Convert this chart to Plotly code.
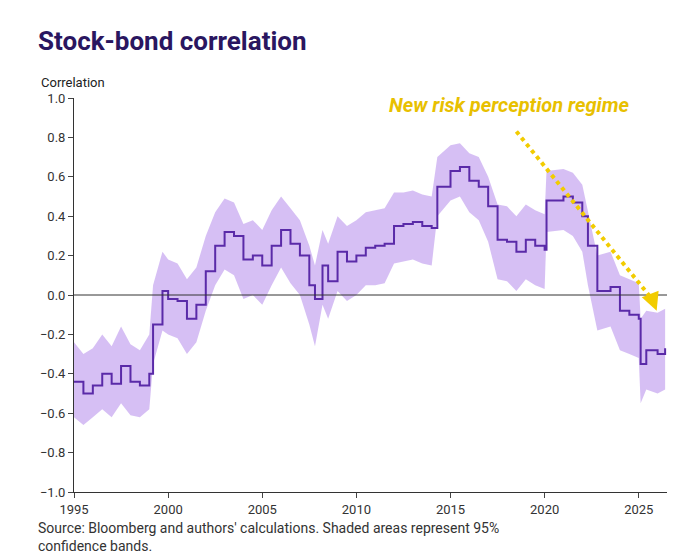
import plotly.graph_objects as go

years = [1995.0,1995.5,1996.0,1996.5,1997.0,1997.5,1998.0,1998.5,1999.0,1999.2,1999.7,2000.0,2000.5,2001.0,2001.5,2002.0,2002.5,2003.0,2003.5,2004.0,2004.5,2005.0,2005.5,2006.0,2006.5,2007.0,2007.5,2007.8,2008.2,2008.5,2009.0,2009.5,2010.0,2010.5,2011.0,2011.5,2012.0,2012.5,2013.0,2013.5,2014.0,2014.3,2015.0,2015.5,2016.0,2016.5,2017.0,2017.5,2018.0,2018.5,2019.0,2019.5,2020.0,2020.1,2021.0,2021.5,2022.0,2022.3,2022.8,2023.5,2024.0,2024.5,2025.0,2025.1,2025.4,2026.0,2026.4]
corr = [-0.44,-0.50,-0.46,-0.40,-0.45,-0.36,-0.44,-0.46,-0.40,-0.15,0.02,-0.02,-0.03,-0.12,-0.05,0.12,0.25,0.32,0.30,0.18,0.20,0.15,0.25,0.33,0.26,0.20,0.05,-0.02,0.15,0.07,0.22,0.17,0.20,0.24,0.25,0.26,0.35,0.36,0.37,0.35,0.34,0.55,0.63,0.65,0.58,0.55,0.45,0.28,0.27,0.22,0.28,0.25,0.23,0.48,0.50,0.47,0.40,0.25,0.02,0.04,-0.08,-0.10,-0.12,-0.35,-0.28,-0.30,-0.27]
lower = [-0.62,-0.66,-0.62,-0.58,-0.62,-0.55,-0.61,-0.62,-0.58,-0.35,-0.18,-0.20,-0.22,-0.30,-0.24,-0.08,0.05,0.13,0.10,-0.02,0.00,-0.05,0.05,0.14,0.06,0.00,-0.15,-0.26,-0.05,-0.12,0.02,-0.03,0.00,0.05,0.05,0.06,0.16,0.17,0.18,0.16,0.15,0.40,0.48,0.50,0.42,0.38,0.27,0.08,0.07,0.02,0.08,0.05,0.03,0.32,0.33,0.30,0.22,0.05,-0.18,-0.16,-0.28,-0.30,-0.32,-0.55,-0.48,-0.50,-0.48]
upper = [-0.24,-0.30,-0.27,-0.20,-0.26,-0.16,-0.25,-0.28,-0.20,0.05,0.22,0.18,0.16,0.08,0.14,0.30,0.42,0.49,0.47,0.36,0.38,0.33,0.43,0.50,0.44,0.38,0.25,0.15,0.33,0.26,0.40,0.35,0.38,0.42,0.43,0.44,0.52,0.52,0.53,0.51,0.50,0.70,0.76,0.77,0.72,0.70,0.60,0.46,0.45,0.40,0.46,0.43,0.41,0.63,0.64,0.62,0.56,0.43,0.20,0.22,0.10,0.08,0.06,-0.12,-0.08,-0.09,-0.07]
x_ticks = [1995,2000,2005,2010,2015,2020,2025]
y_ticks = [-1.0,-0.8,-0.6,-0.4,-0.2,0.0,0.2,0.4,0.6,0.8,1.0]

fig = go.Figure()
fig.add_trace(go.Scatter(x=years, y=upper, mode="lines", line=dict(width=0), hoverinfo="skip", showlegend=False))
fig.add_trace(go.Scatter(x=years, y=lower, mode="lines", line=dict(width=0), fill="tonexty",
                         fillcolor="rgba(200,170,240,0.75)", hoverinfo="skip", showlegend=False))
fig.add_trace(go.Scatter(x=years, y=corr, mode="lines", line=dict(color="#5a2aa8", width=2, shape="hv"), showlegend=False))
fig.add_hline(y=0, line=dict(color="#333", width=1))
fig.add_shape(type="line", x0=2018.5, y0=0.83, x1=2025.7, y1=-0.02, line=dict(color="#f2cc00", width=4, dash="dot"))
fig.add_annotation(x=2025.95, y=-0.08, ax=2025.75, ay=-0.03, axref="x", ayref="y", xref="x", yref="y",
                   showarrow=True, arrowhead=2, arrowsize=1.2, arrowwidth=3, arrowcolor="#f2cc00", text="")
fig.add_annotation(x=2024.6, y=0.965, xref="x", yref="y", xanchor="right", yanchor="middle", showarrow=False,
                   text="<b><i>New risk perception regime</i></b>", font=dict(size=20, color="#e8c000", family="Roboto"))
fig.add_annotation(x=0, y=1.0, xref="paper", yref="paper", xanchor="left", yanchor="bottom", yshift=40, xshift=-38,
                   text="<b>Stock-bond correlation</b>", font=dict(size=26, color="#2a1660", family="Roboto"),
                   showarrow=False)
fig.add_annotation(x=0, y=1.0, xref="paper", yref="paper", xanchor="left", yanchor="bottom", yshift=6, xshift=-35,
                   text="Correlation", showarrow=False, font=dict(size=13, color="#222"))
fig.add_annotation(x=0, y=0, xref="paper", yref="paper", xanchor="left", yanchor="top", yshift=-26, xshift=-38, align="left",
                   text="Source: Bloomberg and authors' calculations. Shaded areas represent 95%<br>confidence bands.",
                   showarrow=False, font=dict(size=14, color="#333"))
fig.update_layout(width=700, height=559, plot_bgcolor="white", paper_bgcolor="white",
                  margin=dict(l=66, r=41, t=90, b=75), font=dict(family="Roboto", color="#333", size=13))
fig.update_xaxes(range=[1995, 2026.5], tickvals=x_ticks, showgrid=False, ticks="outside", ticklen=5,
                 showline=True, linecolor="#333", zeroline=False)
fig.update_yaxes(range=[-1.0, 1.0], tickvals=y_ticks, tickformat=".1f", showgrid=False, ticks="outside", ticklen=5,
                 showline=True, linecolor="#333", zeroline=False)
fig.write_html("out.html")
